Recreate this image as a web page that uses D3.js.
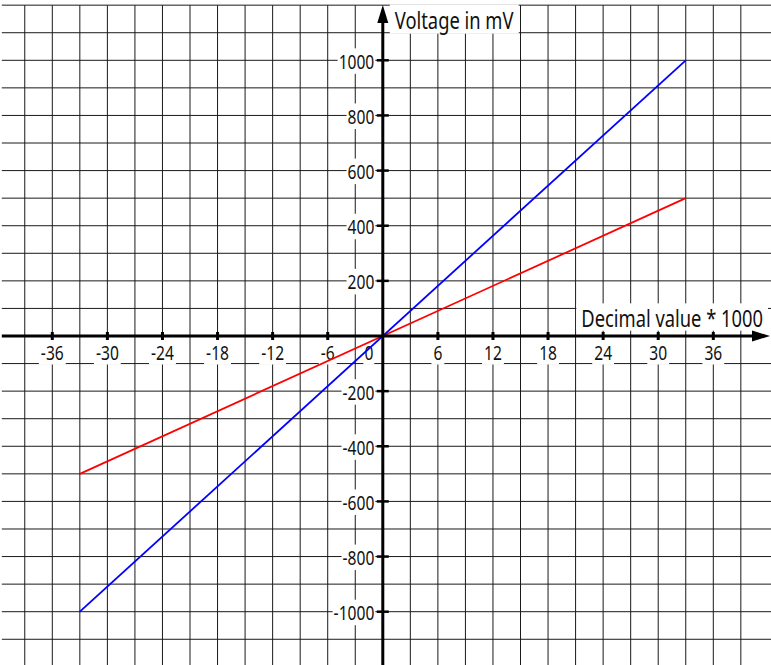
<!DOCTYPE html>
<html><head><meta charset="utf-8">
<script src="https://cdn.jsdelivr.net/npm/d3@7"></script>
<style>
body{margin:0;background:#fff}
text{font-family:"Noto Sans","Open Sans","DejaVu Sans",sans-serif;fill:#111}
</style>
</head><body><svg id="c" width="771" height="665"></svg>
<script>
// data
const xValues=[-33,33];
const blueValues=[-1000,1000];
const redValues=[-500,500];
const xTickLabels=[-36,-30,-24,-18,-12,-6,0,6,12,18,24,30,36];
const yTickLabels=[-1000,-800,-600,-400,-200,200,400,600,800,1000];
const xGridValues=d3.range(-39,40,3).filter(v=>v!==0);
const yGridValues=d3.range(-1100,1201,100).filter(v=>v!==0);
const xTitle="Decimal value * 1000";
const yTitle="Voltage in mV";

const W=771,H=665;
const svg=d3.select("#c");
const x=d3.scaleLinear().domain([-36,36]).range([52.3,713.3]);
const y=d3.scaleLinear().domain([-1000,1000]).range([611.7,60.3]);
const x0=x(0), y0=y(0);
const gridLeft=x(-41.5), gridTop=y(1200);

svg.append("rect").attr("width",W).attr("height",H).attr("fill","#fff");

// grid
const g=svg.append("g").attr("stroke","#1a1a1a").attr("stroke-width",1);
g.selectAll("line.v").data(xGridValues).join("line").attr("class","v")
 .attr("x1",d=>x(d)).attr("x2",d=>x(d)).attr("y1",gridTop).attr("y2",H);
g.selectAll("line.h").data(yGridValues).join("line").attr("class","h")
 .attr("y1",d=>y(d)).attr("y2",d=>y(d)).attr("x1",gridLeft).attr("x2",W);

const labels=svg.append("g");
function addLabel(txt,px,py,anchor,padX,padY,size,sx){
  const grp=labels.append("g").attr("transform",`translate(${px},${py}) scale(${sx},1)`);
  const t=grp.append("text").text(txt).attr("text-anchor",anchor).style("font-size",size+"px");
  const b=t.node().getBBox();
  grp.insert("rect","text").attr("x",b.x-padX/sx).attr("y",b.y-padY)
    .attr("width",b.width+2*padX/sx).attr("height",b.height+2*padY).attr("fill","#fff");
}
// titles
addLabel(yTitle,x0+12,28.5,"start",5,-1.5,23.5,0.78);
addLabel(xTitle,W-8,326.5,"end",5,-2.5,23.5,0.78);
// x tick labels
xTickLabels.forEach(v=>{
  if(v===0) addLabel("0",x0-9.5,359.5,"end",1,-0.5,19.5,0.8);
  else addLabel(String(v),x(v),359.5,"middle",2,-0.5,19.5,0.8);
});
yTickLabels.forEach(v=>{
  addLabel(String(v),x0-8.5,y(v)+8.5,"end",1,-0.5,19.5,0.8);
});

// data lines
const line=d3.line().x(d=>x(d[0])).y(d=>y(d[1]));
svg.append("path").datum(xValues.map((v,i)=>[v,redValues[i]])).attr("d",line)
  .attr("fill","none").attr("stroke","#ff0000").attr("stroke-width",1.8);
svg.append("path").datum(xValues.map((v,i)=>[v,blueValues[i]])).attr("d",line)
  .attr("fill","none").attr("stroke","#0000ff").attr("stroke-width",1.8);

// axes
const ax=svg.append("g").attr("stroke","#000");
ax.append("line").attr("x1",gridLeft).attr("x2",756).attr("y1",y0).attr("y2",y0).attr("stroke-width",3);
ax.append("path").attr("d",`M770,${y0} L752,${y0-5.5} L752,${y0+5.5} Z`).attr("fill","#000").attr("stroke","none");
ax.append("line").attr("x1",x0).attr("x2",x0).attr("y1",H).attr("y2",18).attr("stroke-width",3);
ax.append("path").attr("d",`M${x0},5 L${x0-5.5},23 L${x0+5.5},23 Z`).attr("fill","#000").attr("stroke","none");
ax.selectAll("line.xt").data(xTickLabels.filter(v=>v!==0)).join("line").attr("class","xt")
  .attr("x1",d=>x(d)).attr("x2",d=>x(d)).attr("y1",y0-4).attr("y2",y0+4).attr("stroke-width",3);
ax.selectAll("line.yt").data(yTickLabels).join("line").attr("class","yt")
  .attr("y1",d=>y(d)).attr("y2",d=>y(d)).attr("x1",x0-6).attr("x2",x0+6).attr("stroke-width",2.5);
</script></body></html>
